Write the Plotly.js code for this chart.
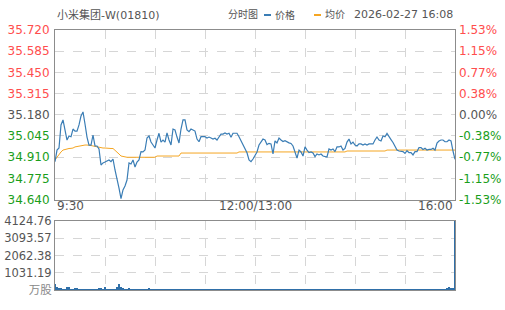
<!DOCTYPE html>
<html>
<head>
<meta charset="utf-8">
<script src="https://cdn.plot.ly/plotly-3.0.1.min.js"></script>
<style>
html,body{margin:0;padding:0;background:#fff;}
#chart{width:505px;height:310px;}
</style>
</head>
<body>
<div id="chart"></div>
<script>
// ---- data ----
const stockName = '小米集团-W(01810)';
const chartLabel = '分时图';
const legendPrice = '价格';
const legendAvg = '均价';
const stampText = '2026-02-27 16:08';
const volumeUnit = '万股';
const prevClose = 35.180;

const timeLabels = ['9:30', '12:00/13:00', '16:00'];

const priceTickLabels = ['34.640','34.775','34.910','35.045','35.180','35.315','35.450','35.585','35.720'];
const pctTickLabels = ['-1.53%','-1.15%','-0.77%','-0.38%','0.00%','0.38%','0.77%','1.15%','1.53%'];
const volumeTickLabels = ['0','1031.19','2062.38','3093.57','4124.76'];

const price = [
34.881,34.955,34.968,35.115,35.147,35.089,35.019,35.045,35.040,35.089,
35.076,35.076,35.115,35.172,35.198,35.121,35.038,34.987,34.987,35.051,
34.981,34.981,34.962,34.860,34.873,34.879,34.885,34.892,34.881,34.898,
34.828,34.758,34.713,34.645,34.701,34.726,34.764,34.873,34.866,34.892,
34.847,34.879,34.892,34.945,34.943,34.955,35.032,35.045,35.006,34.987,
34.968,35.019,35.062,35.006,35.019,35.006,35.064,35.019,34.987,35.089,
35.083,35.038,35.000,35.089,35.147,35.147,35.083,35.072,35.089,35.083,
35.076,35.025,35.008,35.040,35.040,35.040,35.032,35.038,35.032,35.025,
35.030,35.019,35.038,35.057,35.057,35.064,35.057,35.062,35.036,35.062,
35.062,35.062,35.040,35.013,34.987,34.962,34.938,34.892,34.881,34.898,
34.924,34.943,34.987,35.008,35.025,35.019,34.990,34.998,34.994,34.930,
35.013,35.000,35.032,35.019,35.009,35.015,35.006,35.001,34.997,34.981,
34.943,34.904,34.955,34.943,34.917,34.976,34.955,34.939,34.943,34.936,
34.913,34.930,34.924,34.930,34.917,34.913,34.911,34.962,34.955,34.962,
34.945,34.975,34.975,34.981,34.955,34.966,35.006,35.025,34.994,35.006,
34.987,34.981,34.994,34.994,34.987,34.994,34.987,34.994,34.994,34.994,
35.019,35.038,35.019,35.013,35.045,35.040,35.061,35.045,35.022,35.003,
34.976,34.955,34.949,34.949,34.945,34.934,34.951,34.939,34.939,34.924,
34.945,34.945,34.971,34.971,34.959,34.966,34.955,34.959,34.959,34.966,
34.955,35.000,35.013,35.019,35.019,35.008,35.008,35.019,35.013,34.949,
34.896
];

const avgPrice = [
34.892,34.911,34.930,34.943,34.955,34.959,34.962,34.965,34.966,34.968,
34.975,34.978,34.981,34.984,34.987,34.987,34.987,34.987,34.984,34.981,
34.978,34.975,34.975,34.971,34.968,34.968,34.966,34.966,34.965,34.965,
34.955,34.943,34.930,34.917,34.913,34.911,34.909,34.909,34.909,34.909,
34.909,34.909,34.909,34.909,34.909,34.909,34.909,34.909,34.909,34.909,
34.909,34.917,34.917,34.917,34.917,34.917,34.917,34.917,34.917,34.917,
34.917,34.917,34.917,34.936,34.936,34.936,34.936,34.936,34.936,34.936,
34.936,34.936,34.936,34.936,34.936,34.936,34.936,34.936,34.936,34.936,
34.936,34.936,34.936,34.936,34.936,34.936,34.936,34.936,34.936,34.936,
34.936,34.936,34.943,34.943,34.943,34.943,34.943,34.943,34.943,34.943,
34.943,34.943,34.943,34.943,34.943,34.943,34.943,34.943,34.943,34.943,
34.943,34.943,34.943,34.943,34.943,34.943,34.943,34.943,34.943,34.943,
34.943,34.943,34.943,34.943,34.943,34.943,34.943,34.943,34.943,34.943,
34.943,34.943,34.943,34.943,34.943,34.943,34.943,34.943,34.943,34.943,
34.943,34.943,34.943,34.943,34.943,34.943,34.949,34.949,34.949,34.949,
34.949,34.949,34.949,34.949,34.949,34.949,34.949,34.949,34.949,34.949,
34.949,34.949,34.949,34.949,34.949,34.949,34.955,34.955,34.955,34.955,
34.955,34.955,34.955,34.955,34.955,34.955,34.955,34.955,34.955,34.955,
34.955,34.955,34.955,34.955,34.955,34.955,34.955,34.955,34.955,34.955,
34.955,34.955,34.955,34.955,34.955,34.955,34.955,34.955,34.955,34.955,
34.955
];

const volume = [
340,200,120,100,80,70,180,160,70,60,
130,120,70,60,60,70,60,60,60,60,
60,70,120,110,60,170,70,60,60,60,
60,150,360,170,130,80,70,110,60,60,
60,60,60,60,60,60,70,90,60,60,
60,60,60,60,60,60,60,60,60,60,
60,60,60,60,60,60,60,60,60,60,
60,60,60,60,60,60,60,60,60,60,
60,60,60,60,60,60,60,60,60,60,
60,60,60,60,60,60,60,60,60,60,
60,60,60,60,60,60,60,60,60,60,
60,60,60,60,60,60,60,60,60,60,
60,60,60,60,60,60,60,60,60,60,
60,60,60,60,60,60,60,60,60,60,
60,60,60,60,60,60,60,60,60,60,
60,60,60,60,60,60,60,60,60,60,
60,60,60,60,60,60,60,60,60,60,
60,60,60,60,60,60,60,60,60,60,
60,60,60,60,60,60,60,60,60,60,
60,60,60,60,80,60,90,160,110,140,
4124.76
];

// ---- derived ----
const n = price.length;
const xIdx = price.map((_, i) => i);
const priceTickVals = priceTickLabels.map(Number);
const yMin = priceTickVals[0], yMax = priceTickVals[priceTickVals.length - 1];
const pctOf = p => (p - prevClose) / prevClose * 100;
const pctTickVals = priceTickVals.map(pctOf);
const volMax = Number(volumeTickLabels[volumeTickLabels.length - 1]);
const volTickVals = volumeTickLabels.map(Number);

const RED = '#ff4d4d', GREEN = '#1a9e1a', GRAY = '#555555';
const colorFor = v => Math.abs(v - prevClose) < 1e-6 ? GRAY : (v > prevClose ? RED : GREEN);
const priceTickText = priceTickLabels.map((t, i) => `<span style="color:${colorFor(priceTickVals[i])}">${t}</span>`);
const pctTickText = pctTickLabels.map((t, i) => `<span style="color:${colorFor(priceTickVals[i])}">${t}</span>`);
const volTickText = volumeTickLabels.map((t, i) => i === 0 ? `<span style="color:#888">${volumeUnit}</span>` : t);

const gridVals = [];
for (let k = 0; k <= 8; k++) gridVals.push((n - 1) * k / 8);

const FONT = 'DejaVu Sans, Noto Sans CJK SC, sans-serif';
const H = 310;
const py = px => 1 - px / H;
const pxX = px => (px - 55) / 400;

const traces = [
  { x: xIdx, y: avgPrice, type: 'scatter', mode: 'lines', name: legendAvg,
    line: { color: '#f5a623', width: 1 }, xaxis: 'x', yaxis: 'y', hoverinfo: 'skip' },
  { x: xIdx, y: price, type: 'scatter', mode: 'lines', name: legendPrice,
    line: { color: '#3a7db5', width: 1.2 }, xaxis: 'x', yaxis: 'y' },
  { x: xIdx, y: price.map(pctOf), type: 'scatter', mode: 'lines', showlegend: false,
    line: { width: 0 }, opacity: 0, xaxis: 'x', yaxis: 'y2', hoverinfo: 'skip' },
  { x: xIdx, y: volume, type: 'bar', name: volumeUnit, width: 0.55,
    marker: { color: '#2f6fa8', line: { width: 0 } }, xaxis: 'x2', yaxis: 'y3' }
];

const gridStyle = { showgrid: true, gridcolor: '#d6d6d6', griddash: 'dash', gridwidth: 1 };
const lineStyle = { showline: true, linecolor: '#8c8c8c', linewidth: 1, mirror: true };

const layout = {
  width: 505, height: 310,
  margin: { l: 55, r: 50, t: 0, b: 0, pad: 0 },
  paper_bgcolor: '#ffffff', plot_bgcolor: '#ffffff',
  showlegend: false,
  bargap: 0,
  font: { family: FONT, size: 12, color: GRAY },
  xaxis: Object.assign({ domain: [0, 1], range: [0, n - 1], anchor: 'y', tickmode: 'array',
    tickvals: gridVals, showticklabels: false, ticks: '', zeroline: false, fixedrange: true }, gridStyle, lineStyle),
  yaxis: Object.assign({ domain: [py(199.5), py(30)], range: [yMin, yMax], anchor: 'x',
    tickmode: 'array', tickvals: priceTickVals, ticktext: priceTickText, ticks: '',
    ticklabelstandoff: 2, zeroline: false, automargin: false,
    tickfont: { family: FONT, size: 12 } }, gridStyle, lineStyle),
  yaxis2: { overlaying: 'y', side: 'right', anchor: 'x', range: [pctOf(yMin), pctOf(yMax)],
    tickmode: 'array', tickvals: pctTickVals, ticktext: pctTickText, ticks: '',
    showgrid: false, zeroline: false, showline: false, automargin: false, ticklabelstandoff: 3,
    tickfont: { family: FONT, size: 12 } },
  xaxis2: Object.assign({ domain: [0, 1], range: [0, n - 1], anchor: 'y3', matches: 'x', tickmode: 'array',
    tickvals: gridVals, showticklabels: false, ticks: '', zeroline: false }, gridStyle, lineStyle),
  yaxis3: Object.assign({ domain: [py(290), py(221)], range: [0, volMax], anchor: 'x2',
    tickmode: 'array', tickvals: volTickVals, ticktext: volTickText, ticks: '',
    ticklabelstandoff: 0, zeroline: false, automargin: false,
    tickfont: { family: FONT, size: 11.5, color: GRAY } }, gridStyle, lineStyle),
  annotations: [
    { xref: 'x', yref: 'paper', x: 0, y: py(206), xanchor: 'left', yanchor: 'middle',
      text: timeLabels[0], showarrow: false, font: { size: 12, color: GRAY } },
    { xref: 'x', yref: 'paper', x: (n - 1) / 2, y: py(206), xanchor: 'center', yanchor: 'middle',
      text: timeLabels[1], showarrow: false, font: { size: 12, color: GRAY } },
    { xref: 'x', yref: 'paper', x: n - 1, y: py(206), xanchor: 'right', yanchor: 'middle',
      text: timeLabels[2], showarrow: false, font: { size: 12, color: GRAY } },
    { xref: 'paper', yref: 'paper', x: 0, y: py(15), xanchor: 'left', yanchor: 'middle',
      text: stockName, showarrow: false, font: { size: 11, color: GRAY } },
    { xref: 'paper', yref: 'paper', x: pxX(260), y: py(15), xanchor: 'right', yanchor: 'middle',
      text: chartLabel, showarrow: false, font: { size: 10, color: GRAY } },
    { xref: 'paper', yref: 'paper', x: pxX(273), y: py(15), xanchor: 'left', yanchor: 'middle',
      text: legendPrice, showarrow: false, font: { size: 10, color: GRAY } },
    { xref: 'paper', yref: 'paper', x: pxX(323), y: py(15), xanchor: 'left', yanchor: 'middle',
      text: legendAvg, showarrow: false, font: { size: 10, color: GRAY } },
    { xref: 'paper', yref: 'paper', x: pxX(455), y: py(15), xanchor: 'right', yanchor: 'middle',
      text: stampText, showarrow: false, font: { size: 11, color: GRAY } }
  ],
  shapes: [
    { type: 'line', xref: 'paper', yref: 'paper', x0: pxX(264), x1: pxX(271),
      y0: py(15), y1: py(15), line: { color: '#3a7db5', width: 2 } },
    { type: 'line', xref: 'paper', yref: 'paper', x0: pxX(314), x1: pxX(321),
      y0: py(15), y1: py(15), line: { color: '#f5a623', width: 2 } }
  ]
};

Plotly.newPlot('chart', traces, layout, { staticPlot: true, displayModeBar: false });
</script>
</body>
</html>
